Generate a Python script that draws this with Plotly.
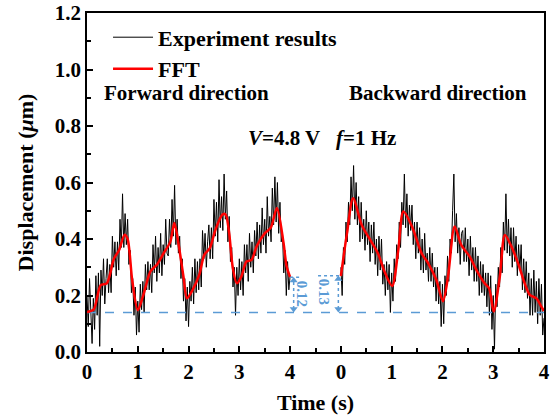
import numpy as np
import plotly.graph_objects as go

# ---------------- data ----------------
# experimental samples, 0.025 s spacing, 0..4 s
t_step = 0.025
exp_forward = [
    0.20, 0.09, 0.26, 0.13, 0.03, 0.19, 0.08, 0.27,
    0.13, 0.28, 0.02, 0.29, 0.20, 0.33, 0.17, 0.26,
    0.33, 0.21, 0.31, 0.21, 0.41, 0.30, 0.39, 0.27,
    0.39, 0.29, 0.47, 0.37, 0.56, 0.37, 0.49, 0.38,
    0.47, 0.31, 0.36, 0.21, 0.26, 0.13, 0.23, 0.06,
    0.18, 0.07, 0.24, 0.15, 0.25, 0.14, 0.31, 0.22,
    0.32, 0.22, 0.31, 0.21, 0.38, 0.28, 0.41, 0.25,
    0.37, 0.28, 0.42, 0.27, 0.38, 0.31, 0.47, 0.35,
    0.34, 0.47, 0.37, 0.54, 0.41, 0.59, 0.38, 0.47,
    0.35, 0.41, 0.26, 0.33, 0.18, 0.26, 0.11, 0.23,
    0.09, 0.25, 0.18, 0.30, 0.17, 0.33, 0.21, 0.32,
    0.22, 0.33, 0.23, 0.43, 0.33, 0.42, 0.30, 0.39,
    0.45, 0.33, 0.44, 0.33, 0.54, 0.41, 0.53, 0.39,
    0.61, 0.44, 0.55, 0.43, 0.63, 0.47, 0.57, 0.39,
    0.48, 0.32, 0.37, 0.23, 0.30, 0.13, 0.30, 0.20,
    0.33, 0.22, 0.32, 0.20, 0.38, 0.28, 0.38, 0.25,
    0.42, 0.30, 0.39, 0.28, 0.43, 0.34, 0.46, 0.33,
    0.45, 0.35, 0.51, 0.38, 0.47, 0.35, 0.55, 0.41,
    0.48, 0.39, 0.58, 0.45, 0.62, 0.46, 0.60, 0.42,
    0.53, 0.39, 0.42, 0.28, 0.36, 0.20, 0.32, 0.22,
    0.27,
]
exp_backward = [
    0.30, 0.20, 0.37, 0.31, 0.46, 0.39, 0.53, 0.45,
    0.62, 0.50, 0.66, 0.47, 0.60, 0.45, 0.55, 0.39,
    0.53, 0.40, 0.47, 0.36, 0.50, 0.38, 0.46, 0.32,
    0.45, 0.35, 0.46, 0.31, 0.40, 0.27, 0.41, 0.29,
    0.40, 0.24, 0.31, 0.20, 0.32, 0.22, 0.31, 0.14,
    0.28, 0.18, 0.33, 0.25, 0.38, 0.33, 0.46, 0.37,
    0.53, 0.45, 0.63, 0.44, 0.56, 0.41, 0.52, 0.43,
    0.52, 0.38, 0.46, 0.33, 0.46, 0.35, 0.44, 0.29,
    0.40, 0.28, 0.42, 0.29, 0.35, 0.25, 0.37, 0.25,
    0.35, 0.23, 0.30, 0.18, 0.30, 0.17, 0.25, 0.09,
    0.24, 0.10, 0.27, 0.20, 0.34, 0.25, 0.40, 0.35,
    0.50, 0.63, 0.39, 0.49, 0.35, 0.44, 0.31, 0.42,
    0.43, 0.32, 0.44, 0.32, 0.40, 0.27, 0.41, 0.29,
    0.37, 0.25, 0.37, 0.25, 0.34, 0.20, 0.32, 0.21,
    0.31, 0.20, 0.28, 0.16, 0.28, 0.13, 0.27, 0.08,
    0.20, 0.01, 0.24, 0.16, 0.30, 0.23, 0.37, 0.28,
    0.46, 0.36, 0.56, 0.35, 0.47, 0.34, 0.44, 0.30,
    0.44, 0.32, 0.41, 0.27, 0.38, 0.29, 0.38, 0.22,
    0.33, 0.21, 0.32, 0.19, 0.28, 0.13, 0.26, 0.13,
    0.29, 0.14, 0.25, 0.10, 0.26, 0.13, 0.24, 0.06,
    0.12,
]

fft_forward_t = [0, 0.13, 0.27, 0.39, 0.53, 0.63, 0.74, 0.80, 0.89, 1.00, 1.10, 1.25, 1.38,
                 1.51, 1.64, 1.72, 1.80, 1.90, 1.97, 2.08, 2.21, 2.31, 2.42, 2.53, 2.67,
                 2.73, 2.80, 2.87, 2.95, 3.04, 3.14, 3.24, 3.34, 3.50, 3.62, 3.74, 3.87,
                 3.93, 4.00]
fft_forward_v = [0.142, 0.150, 0.237, 0.243, 0.330, 0.360, 0.415, 0.400, 0.255, 0.148, 0.196,
                 0.285, 0.310, 0.350, 0.390, 0.457, 0.385, 0.267, 0.190, 0.220, 0.273, 0.344,
                 0.368, 0.433, 0.487, 0.487, 0.420, 0.300, 0.243, 0.267, 0.320, 0.326, 0.374,
                 0.420, 0.440, 0.510, 0.387, 0.304, 0.265]
fft_backward_t = [0, 0.12, 0.24, 0.41, 0.54, 0.73, 0.86, 1.01, 1.13, 1.23, 1.40, 1.59, 1.72,
                  1.88, 2.01, 2.11, 2.24, 2.37, 2.54, 2.67, 2.83, 2.92, 3.01, 3.13, 3.23,
                  3.36, 3.49, 3.62, 3.72, 3.85, 3.95, 4.00]
fft_backward_v = [0.269, 0.420, 0.544, 0.450, 0.408, 0.349, 0.284, 0.234, 0.361, 0.497, 0.444,
                  0.349, 0.314, 0.255, 0.180, 0.267, 0.444, 0.379, 0.337, 0.290, 0.243, 0.225,
                  0.143, 0.267, 0.414, 0.373, 0.314, 0.243, 0.202, 0.190, 0.160, 0.145]

baseline = 0.14
forward_end = 0.265     # 0.14 + 0.12
backward_start = 0.27   # 0.14 + 0.13
backward_offset = 5.0   # second panel of time axis starts here
x_tick_labels = ["0", "1", "2", "3", "4", "0", "1", "2", "3", "4"]

# ---------------- figure ----------------
BLUE = "#5B9BD5"
FONT = "Liberation Serif"

t_f = np.arange(len(exp_forward)) * t_step
t_b = np.arange(len(exp_backward)) * t_step + backward_offset

fig = go.Figure()
fig.add_trace(go.Scatter(x=t_f, y=exp_forward, mode="lines", name="Experiment results",
                         line=dict(color="black", width=1), legendgroup="e"))
fig.add_trace(go.Scatter(x=t_b, y=exp_backward, mode="lines", showlegend=False,
                         line=dict(color="black", width=1), legendgroup="e"))

# baseline
fig.add_trace(go.Scatter(x=[0, 4 + backward_offset], y=[baseline, baseline], mode="lines",
                         line=dict(color=BLUE, width=1.5, dash="dash"), showlegend=False))

fig.add_trace(go.Scatter(x=fft_forward_t, y=fft_forward_v, mode="lines", name="FFT",
                         line=dict(color="red", width=2.5, shape="spline", smoothing=0.8),
                         legendgroup="f"))
fig.add_trace(go.Scatter(x=np.array(fft_backward_t) + backward_offset, y=fft_backward_v,
                         mode="lines", showlegend=False, legendgroup="f",
                         line=dict(color="red", width=2.5, shape="spline", smoothing=0.8)))

# dimension markers (0.12 and 0.13)
xa, xb = 4.07, 4.95
fig.add_trace(go.Scatter(x=[4.0, 4.2], y=[forward_end, forward_end], mode="lines",
                         line=dict(color=BLUE, width=1.5, dash="dot"), showlegend=False))
fig.add_trace(go.Scatter(x=[4.55, 5.0], y=[backward_start, backward_start], mode="lines",
                         line=dict(color=BLUE, width=1.5, dash="dot"), showlegend=False))
fig.add_trace(go.Scatter(x=[xa, xa], y=[baseline + 0.012, forward_end - 0.012], mode="lines+markers",
                         line=dict(color=BLUE, width=1.5, dash="dot"),
                         marker=dict(symbol=["triangle-down", "triangle-up"], size=7, color=BLUE),
                         showlegend=False))
fig.add_trace(go.Scatter(x=[xb, xb], y=[baseline + 0.012, backward_start - 0.012], mode="lines+markers",
                         line=dict(color=BLUE, width=1.5, dash="dot"),
                         marker=dict(symbol=["triangle-down", "triangle-up"], size=7, color=BLUE),
                         showlegend=False))

fig.add_annotation(x=4.24, y=0.205, xref="x", yref="y", text="<b>0.12</b>", showarrow=False,
                   textangle=90, font=dict(family=FONT, size=15, color=BLUE))
fig.add_annotation(x=4.66, y=0.215, xref="x", yref="y", text="<b>0.13</b>", showarrow=False,
                   textangle=90, font=dict(family=FONT, size=15, color=BLUE))

fig.add_annotation(x=0.217, y=0.765, xref="paper", yref="paper", xanchor="center", yanchor="middle",
                   text="<b>Forward direction</b>",
                   showarrow=False, font=dict(family=FONT, size=21, color="black"))
fig.add_annotation(x=0.768, y=0.765, xref="paper", yref="paper", xanchor="center", yanchor="middle",
                   text="<b>Backward direction</b>",
                   showarrow=False, font=dict(family=FONT, size=21, color="black"))
fig.add_annotation(x=0.515, y=0.632, xref="paper", yref="paper", xanchor="center", yanchor="middle",
                   text="<b><i>V</i>=4.8 V&nbsp;&nbsp;&nbsp;<i>f</i>=1 Hz</b>",
                   showarrow=False, font=dict(family=FONT, size=21, color="black"))

axis_common = dict(showline=True, linecolor="black", linewidth=1.5, mirror=True,
                   ticks="inside", ticklen=6, tickwidth=1.5, tickcolor="black",
                   showgrid=False, zeroline=False, automargin=False,
                   tickfont=dict(family=FONT, size=21, color="black", weight="bold"))

fig.update_xaxes(range=[0, 4 + backward_offset], tickmode="array",
                 tickvals=list(range(0, 10)), ticktext=x_tick_labels,
                 minor=dict(tickmode="array",
                            tickvals=[0.5, 1.5, 2.5, 3.5, 4.5, 5.5, 6.5, 7.5, 8.5],
                            ticks="inside", ticklen=4, tickwidth=1.5, tickcolor="black"),
                 title=dict(text="<b>Time (s)</b>", font=dict(family=FONT, size=22, color="black")),
                 **axis_common)
fig.update_yaxes(range=[0, 1.2], tickmode="array", tickvals=[0, 0.2, 0.4, 0.6, 0.8, 1.0, 1.2],
                 ticktext=["0.0", "0.2", "0.4", "0.6", "0.8", "1.0", "1.2"],
                 minor=dict(tickmode="array", tickvals=[0.1, 0.3, 0.5, 0.7, 0.9, 1.1],
                            ticks="inside", ticklen=4, tickwidth=1.5, tickcolor="black"),
                 title=dict(text="<b>Displacement (<i>μ</i>m)</b>",
                            font=dict(family=FONT, size=22, color="black")),
                 **axis_common)

fig.update_layout(
    width=556, height=415,
    margin=dict(l=87, r=12, t=13, b=63),
    paper_bgcolor="white", plot_bgcolor="white",
    showlegend=True,
    legend=dict(x=0.046, y=0.99, xanchor="left", yanchor="top",
                bgcolor="rgba(0,0,0,0)", itemwidth=40, tracegroupgap=0,
                font=dict(family=FONT, size=22, color="black", weight="bold")),
)

fig.write_html("out.html", config={"displayModeBar": False},
               post_script="document.body.style.margin='0';document.body.style.overflow='hidden';")
